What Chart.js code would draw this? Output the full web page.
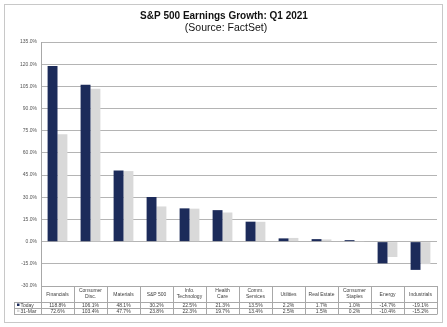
<!DOCTYPE html>
<html><head><meta charset="utf-8">
<script src="https://cdn.jsdelivr.net/npm/chart.js@4/dist/chart.umd.min.js"></script>
<style>html,body{margin:0;padding:0;background:#fff}#wrap{width:447px;height:327px;position:relative}</style>
</head><body><div id="wrap"><canvas id="c" width="447" height="327"></canvas></div>
<script>
const categories = ['Financials', ['Consumer','Disc.'], 'Materials', 'S&P 500', ['Info.','Technology'], ['Health','Care'], ['Comm.','Services'], 'Utilities', 'Real Estate', ['Consumer','Staples'], 'Energy', 'Industrials'];
const todayValues = [118.8, 106.1, 48.1, 30.2, 22.5, 21.3, 13.5, 2.2, 1.7, 1.0, -14.7, -19.1];
const marchValues = [72.6, 103.4, 47.7, 23.8, 22.3, 19.7, 13.4, 2.5, 1.5, 0.2, -10.4, -15.2];
const seriesNames = ['Today', '31-Mar'];
const titleText = 'S&P 500 Earnings Growth: Q1 2021';
const subtitleText = '(Source: FactSet)';
const yMin = -30, yMax = 135, yStep = 15;

const DARK = '#1c2b5a', LIGHT = '#d9d9d9', GRID = '#b4b4b4', TXT = '#404040';
const FONT = '"Liberation Sans", Arial, sans-serif';

const tablePlugin = {
  id: 'tablePlugin',
  beforeDraw(chart) {
    const ctx = chart.ctx;
    ctx.save();
    ctx.fillStyle = '#fff';
    ctx.fillRect(0, 0, chart.width, chart.height);
    ctx.strokeStyle = '#c8c8c8';
    ctx.lineWidth = 1;
    ctx.strokeRect(4.5, 4.5, 438, 318);
    ctx.fillStyle = '#111';
    ctx.textAlign = 'center';
    ctx.textBaseline = 'middle';
    ctx.font = 'bold 10px ' + FONT;
    ctx.fillText(titleText, 224, 16);
    ctx.font = '10.5px ' + FONT;
    ctx.fillText(subtitleText, 226, 28.5);
    ctx.restore();
  },
  afterDraw(chart) {
    const ctx = chart.ctx;
    const ca = chart.chartArea;
    const x = chart.scales.x;
    const n = categories.length;
    const w = (ca.right - ca.left) / n;
    const r0 = ca.bottom, r1 = 302, r2 = 308, r3 = 314, legL = 14;
    ctx.save();
    ctx.strokeStyle = '#a8a8a8';
    ctx.lineWidth = 1;
    const hl = (y, x0) => { ctx.beginPath(); ctx.moveTo(x0, Math.round(y) + 0.5); ctx.lineTo(ca.right, Math.round(y) + 0.5); ctx.stroke(); };
    hl(r0, ca.left); hl(r1, legL); hl(r2, legL); hl(r3, legL);
    ctx.beginPath();
    ctx.moveTo(legL + 0.5, r1); ctx.lineTo(legL + 0.5, r3 + 0.5);
    ctx.stroke();
    for (let i = 0; i <= n; i++) {
      const xx = Math.round(ca.left + i * w) + 0.5;
      ctx.beginPath();
      ctx.moveTo(xx, i === 0 ? ca.top : r0);
      ctx.lineTo(xx, r3 + 0.5);
      ctx.stroke();
    }
    ctx.fillStyle = TXT;
    ctx.textAlign = 'center';
    ctx.textBaseline = 'middle';
    ctx.font = '5px ' + FONT;
    for (let i = 0; i < n; i++) {
      const cx = x.getPixelForValue(i);
      const lab = categories[i];
      if (Array.isArray(lab)) {
        ctx.fillText(lab[0], cx, (r0 + r1) / 2 - 3);
        ctx.fillText(lab[1], cx, (r0 + r1) / 2 + 3);
      } else {
        ctx.fillText(lab, cx, (r0 + r1) / 2 + 0.5);
      }
      ctx.fillText(todayValues[i].toFixed(1) + '%', cx, (r1 + r2) / 2 + 0.5);
      ctx.fillText(marchValues[i].toFixed(1) + '%', cx, (r2 + r3) / 2 + 0.5);
    }
    ctx.textAlign = 'left';
    ctx.fillStyle = DARK;
    ctx.fillRect(17, 303.5, 2.5, 2.5);
    ctx.fillStyle = LIGHT;
    ctx.fillRect(17, 309.5, 2.5, 2.5);
    ctx.fillStyle = TXT;
    ctx.fillText(seriesNames[0], 20.5, (r1 + r2) / 2 + 0.5);
    ctx.fillText(seriesNames[1], 20.5, (r2 + r3) / 2 + 0.5);
    ctx.restore();
  }
};

new Chart(document.getElementById('c'), {
  type: 'bar',
  data: {
    labels: categories,
    datasets: [
      { label: seriesNames[0], data: todayValues, backgroundColor: DARK, borderWidth: 0 },
      { label: seriesNames[1], data: marchValues, backgroundColor: LIGHT, borderWidth: 0 }
    ]
  },
  options: {
    responsive: false,
    animation: false,
    devicePixelRatio: 1,
    datasets: { bar: { categoryPercentage: 0.6, barPercentage: 1.0 } },
    layout: { padding: { left: 0, right: 10, top: 42, bottom: 0 } },
    plugins: { legend: { display: false }, title: { display: false }, tooltip: { enabled: false } },
    scales: {
      x: {
        ticks: { display: false },
        grid: { display: false },
        border: { display: false },
        afterFit(s) { s.height = 41; }
      },
      y: {
        min: yMin, max: yMax,
        ticks: {
          stepSize: yStep,
          padding: 4,
          color: '#555',
          font: { size: 5, family: FONT },
          callback: v => v.toFixed(1) + '%'
        },
        grid: { color: GRID, lineWidth: 1, drawTicks: false },
        border: { display: true, color: '#a8a8a8' },
        afterFit(s) { s.width = 41; }
      }
    }
  },
  plugins: [tablePlugin]
});
</script>
</body></html>
